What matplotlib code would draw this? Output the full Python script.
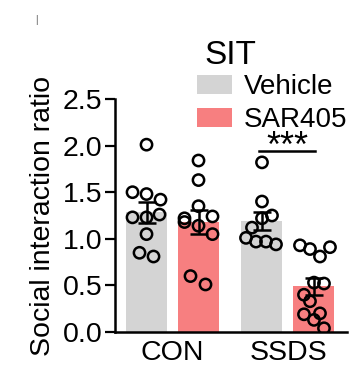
import matplotlib

matplotlib.use("Agg")
import matplotlib.pyplot as plt
import numpy as np
from matplotlib.patches import Patch

plt.rcParams["font.family"] = ["Liberation Sans", "DejaVu Sans"]

# values
groups = ["CON", "SSDS"]
treatments = ["Vehicle", "SAR405"]
colors = {"Vehicle": "#d4d4d4", "SAR405": "#f77f80"}

con_vehicle = [2.01, 1.50, 1.48, 1.42, 1.23, 1.23, 1.26, 1.05, 0.85, 0.81]
con_sar405 = [1.84, 1.63, 1.35, 1.24, 1.22, 1.18, 1.14, 1.05, 0.60, 0.51]
ssds_vehicle = [1.82, 1.40, 1.25, 1.22, 1.12, 1.01, 0.97, 0.97, 0.94]
ssds_sar405 = [0.93, 0.89, 0.81, 0.91, 0.53, 0.52, 0.40, 0.33, 0.20, 0.19, 0.13, 0.04]

# horizontal scatter of the dots inside each bar (px in the reference)
jit_con_vehicle = [0, -14, 0, 14, -14, 0, 13, 0, -7, 7]
jit_con_sar405 = [0, 0, 0, 14, -14, -14, 0, 14, -8, 7]
jit_ssds_vehicle = [0, 0, 10, 0, -10, -16, -6, 4, 14]
jit_ssds_sar405 = [-14, -4, 6, 16, 0, 10, -10, -4, 6, -10, 0, 10]

sig_label = "***"
yticks = [0.0, 0.5, 1.0, 1.5, 2.0, 2.5]

series = {
    ("CON", "Vehicle"): (con_vehicle, jit_con_vehicle),
    ("CON", "SAR405"): (con_sar405, jit_con_sar405),
    ("SSDS", "Vehicle"): (ssds_vehicle, jit_ssds_vehicle),
    ("SSDS", "SAR405"): (ssds_sar405, jit_ssds_sar405),
}

W, H = 355, 376
fig = plt.figure(figsize=(W / 100, H / 100), dpi=100)
ax = fig.add_axes([115 / W, 44 / H, 232 / W, 233 / H])

px = 115.5  # px per x-unit
width = 41 / px
offset = 26 / px

for gi, g in enumerate(groups):
    for ti, t in enumerate(treatments):
        vals, jit = series[(g, t)]
        vals = np.asarray(vals)
        x = gi + (offset if ti else -offset)
        mean = vals.mean()
        sem = vals.std(ddof=1) / np.sqrt(len(vals))
        ax.bar(x, mean, width=width, color=colors[t], zorder=1)
        ax.scatter(x + np.asarray(jit) / px, vals, s=66, facecolors="none",
                   edgecolors="black", linewidths=1.8, zorder=3)
        ax.errorbar(x, mean, yerr=sem, fmt="none", ecolor="black",
                    elinewidth=1.8, capsize=6.5, capthick=1.8, zorder=4)

# significance bar over SSDS
x1 = 1 - offset - 3 / px
x2 = 1 + offset + 1 / px
ax.plot([x1, x2], [1.94, 1.94], color="black", lw=1.8, clip_on=False)
ax.text((x1 + x2) / 2, 1.875, sig_label, ha="center", va="baseline", fontsize=26)

ax.set_xlim(-0.498, 1.511)
ax.set_ylim(0, 2.5)
ax.set_yticks(yticks)
ax.set_yticklabels([f"{v:.1f}" for v in yticks], fontsize=20.5)
ax.set_xticks([0, 1])
ax.set_xticklabels(groups, fontsize=20.5)
ax.tick_params(axis="x", length=0, pad=6)
ax.tick_params(axis="y", length=7, width=1.6, pad=2)
ax.set_ylabel("Social interaction ratio", fontsize=20.5, labelpad=5)
for side in ["top", "right"]:
    ax.spines[side].set_visible(False)
for side in ["left", "bottom"]:
    ax.spines[side].set_linewidth(1.8)

handles = [Patch(facecolor=colors[t], edgecolor="none") for t in treatments]
fig.legend(handles, treatments, loc="upper left", bbox_to_anchor=(197 / W, 1 - 74 / H),
           frameon=False, fontsize=20, handlelength=1.25, handleheight=0.7,
           handletextpad=0.45, labelspacing=0.25, borderpad=0, borderaxespad=0)
fig.text(230 / W, 1 - 56 / H, "SIT", ha="center", va="center", fontsize=24)

# stray mark at the top-left of the reference
fig.text(36 / W, 1 - 20 / H, "|", ha="center", va="center", fontsize=7, color="#555555")

fig.savefig("out.png", dpi=100)
